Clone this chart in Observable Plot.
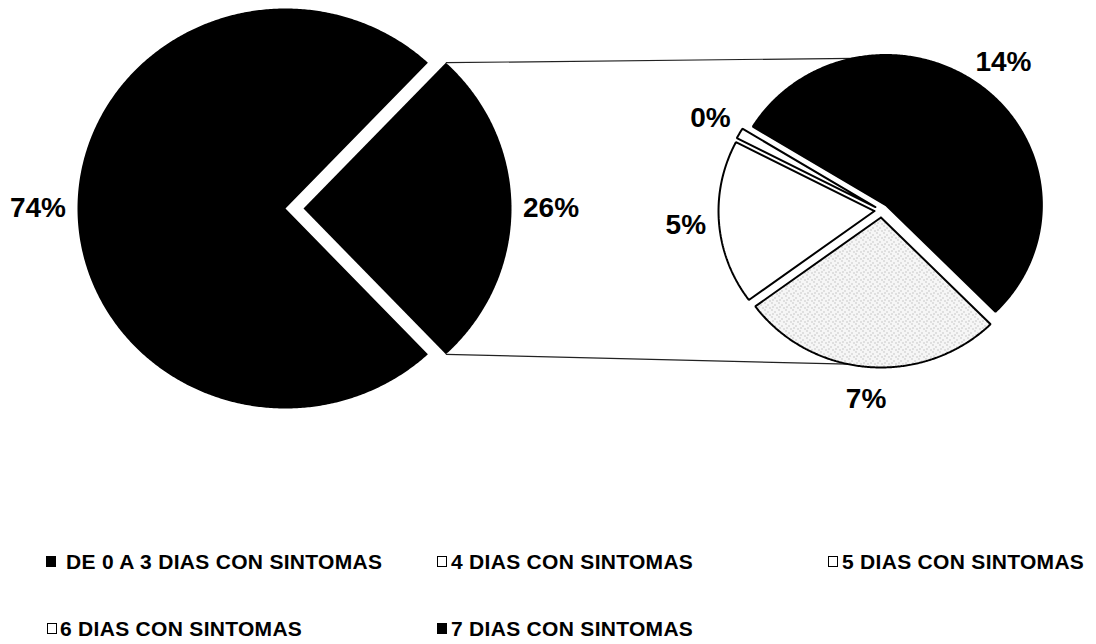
<!DOCTYPE html>
<html>
<head>
<meta charset="utf-8">
<script src="https://cdn.jsdelivr.net/npm/d3@7"></script>
<script src="https://cdn.jsdelivr.net/npm/@observablehq/plot@0.6"></script>
<style>
  body { margin: 0; background: #fff; }
  #chart { width: 1096px; height: 470px; }
  #legend { position: relative; width: 1096px; height: 174px;
    font-family: "Liberation Sans", Arial, sans-serif; font-weight: bold;
    font-size: 21px; letter-spacing: 0.3px; line-height: 21px; color: #000; }
  .sw { position: absolute; width: 10px; height: 11px; box-sizing: border-box; border: 1.6px solid #000; }
  .lt { position: absolute; white-space: nowrap; }
</style>
</head>
<body>
<div id="chart"></div>
<div id="legend"></div>
<script>
// ---------- data ----------
const mainCategories = ["OTROS", "DE 0 A 3 DIAS CON SINTOMAS"];
const mainValues = [26, 74];
const subCategories = ["7 DIAS CON SINTOMAS", "6 DIAS CON SINTOMAS", "5 DIAS CON SINTOMAS", "4 DIAS CON SINTOMAS"];
const subValues = [14.0, 7.1, 4.6, 0.3];
const legendCategories = ["DE 0 A 3 DIAS CON SINTOMAS", "4 DIAS CON SINTOMAS", "5 DIAS CON SINTOMAS", "6 DIAS CON SINTOMAS", "7 DIAS CON SINTOMAS"];

// ---------- styles / layout ----------
const W = 1096, H = 470;
const deg = Math.PI / 180;
const aspect = 1.04;
const mainFills = {"OTROS": "#000", "DE 0 A 3 DIAS CON SINTOMAS": "#000"};
const subFills = {"7 DIAS CON SINTOMAS": "#000", "6 DIAS CON SINTOMAS": "url(#stipple)", "5 DIAS CON SINTOMAS": "#fff", "4 DIAS CON SINTOMAS": "#fff"};
const legendFills = {"DE 0 A 3 DIAS CON SINTOMAS": "#000", "4 DIAS CON SINTOMAS": "#fff", "5 DIAS CON SINTOMAS": "#fff", "6 DIAS CON SINTOMAS": "#fff", "7 DIAS CON SINTOMAS": "#000"};
const mainPie = {cx: 285, cy: 208, r: 200, explode: {"OTROS": 18, "DE 0 A 3 DIAS CON SINTOMAS": 0}, labelGap: 38};
const subPie = {cx: 881, cy: 210, r: 150, explode: 7, labelGap: 32, start: -58.5 * deg};
const fmt = d3.format(".0%");

function polar(cx, cy, r, a) { return [cx + r * aspect * Math.sin(a), cy - r * Math.cos(a)]; }
function slicePts(cx, cy, r, a0, a1) {
  const pts = [[cx, cy]];
  const n = Math.max(2, Math.ceil((a1 - a0) / (0.5 * deg)));
  for (let i = 0; i <= n; i++) pts.push(polar(cx, cy, r, a0 + (a1 - a0) * i / n));
  pts.push([cx, cy]);
  return pts;
}

// main pie: composite slice centred on the right
const mainData = mainCategories.map((c, i) => ({c, v: mainValues[i]}));
const otherShare = mainValues[0] / d3.sum(mainValues);
const mainStart = 90 * deg - otherShare * Math.PI;
const mainArcs = d3.pie().sort(null).value(d => d.v).startAngle(mainStart).endAngle(mainStart + 2 * Math.PI)(mainData);
const mainSlices = mainArcs.map(a => {
  const mid = (a.startAngle + a.endAngle) / 2;
  const e = mainPie.explode[a.data.c];
  const cx = mainPie.cx + e * Math.sin(mid), cy = mainPie.cy - e * Math.cos(mid);
  return {c: a.data.c, v: a.data.v, a0: a.startAngle, a1: a.endAngle, mid, cx, cy,
    pts: slicePts(cx, cy, mainPie.r, a.startAngle, a.endAngle)};
});

// secondary pie
const subData = subCategories.map((c, i) => ({c, v: subValues[i]}));
const subArcs = d3.pie().sort(null).value(d => d.v).startAngle(subPie.start).endAngle(subPie.start + 2 * Math.PI)(subData);
const subSlices = subArcs.map(a => {
  const mid = (a.startAngle + a.endAngle) / 2;
  const cx = subPie.cx + subPie.explode * Math.sin(mid), cy = subPie.cy - subPie.explode * Math.cos(mid);
  return {c: a.data.c, v: a.data.v, a0: a.startAngle, a1: a.endAngle, mid, cx, cy,
    pts: slicePts(cx, cy, subPie.r, a.startAngle, a.endAngle)};
});

// labels
const labels = [
  ...mainSlices.map(s => { const p = polar(s.cx, s.cy, mainPie.r + mainPie.labelGap, s.mid); return {x: p[0], y: p[1], t: fmt(s.v / 100)}; }),
  ...subSlices.map(s => { const p = polar(s.cx, s.cy, subPie.r + subPie.labelGap, s.mid); return {x: p[0], y: p[1], t: fmt(s.v / 100)}; })
];

// connector lines: from composite slice edges to the secondary pie
const other = mainSlices[0];
function onSub(a) {
  const norm = x => ((x - subPie.start) % (2 * Math.PI) + 2 * Math.PI) % (2 * Math.PI) + subPie.start;
  const an = norm(a);
  const s = subSlices.find(s => an >= s.a0 && an <= s.a1) || subSlices[0];
  return polar(s.cx, s.cy, subPie.r, a);
}
const pTopL = polar(other.cx, other.cy, mainPie.r, other.a0);
const pBotL = polar(other.cx, other.cy, mainPie.r, other.a1);
const pTopR = onSub(-12 * deg);
const pBotR = onSub(192 * deg);
const links = [
  {x1: pTopL[0], y1: pTopL[1], x2: pTopR[0], y2: pTopR[1]},
  {x1: pBotL[0], y1: pBotL[1], x2: pBotR[0], y2: pBotR[1]}
];

const sliceMarks = [
  ...mainSlices.map(s => Plot.line(s.pts, {x: d => d[0], y: d => d[1], fill: mainFills[s.c], stroke: "none"})),
  ...subSlices.map(s => Plot.line(s.pts, {x: d => d[0], y: d => d[1], fill: subFills[s.c], stroke: "#000", strokeWidth: 2, strokeLinejoin: "miter"}))
];

const svg = Plot.plot({
  width: W, height: H, margin: 0,
  x: {domain: [0, W], range: [0, W], axis: null},
  y: {domain: [0, H], range: [0, H], axis: null},
  style: {background: "#fff", overflow: "visible"},
  marks: [
    Plot.link(links, {x1: "x1", y1: "y1", x2: "x2", y2: "y2", stroke: "#222", strokeWidth: 1.2}),
    ...sliceMarks,
    Plot.text(labels, {x: "x", y: "y", text: "t", fontSize: 28, fontWeight: "bold",
      fontFamily: "Liberation Sans, Arial, sans-serif", fill: "#000", textAnchor: "middle", lineAnchor: "middle"})
  ]
});

// stipple pattern for the "6 DIAS" slice
const ns = "http://www.w3.org/2000/svg";
const defs = document.createElementNS(ns, "defs");
const pat = document.createElementNS(ns, "pattern");
pat.setAttribute("id", "stipple"); pat.setAttribute("width", 7); pat.setAttribute("height", 7);
pat.setAttribute("patternUnits", "userSpaceOnUse");
const bg = document.createElementNS(ns, "rect");
bg.setAttribute("width", 7); bg.setAttribute("height", 7); bg.setAttribute("fill", "#f6f6f6");
pat.appendChild(bg);
[[1, 1], [4, 3], [2, 5], [6, 6]].forEach(([x, y]) => {
  const r = document.createElementNS(ns, "rect");
  r.setAttribute("x", x); r.setAttribute("y", y); r.setAttribute("width", 1); r.setAttribute("height", 1);
  r.setAttribute("fill", "#9a9a9a");
  pat.appendChild(r);
});
defs.appendChild(pat);
svg.insertBefore(defs, svg.firstChild);
document.getElementById("chart").appendChild(svg);

// legend
const legendLayout = {markerX: [46, 437, 828, 47, 437], textX: [66, 451, 842, 60, 451], rowY: [91, 158], row: [0, 0, 0, 1, 1]};
const leg = document.getElementById("legend");
legendCategories.forEach((c, i) => {
  const cy = legendLayout.rowY[legendLayout.row[i]];
  const sw = document.createElement("div");
  sw.className = "sw";
  sw.style.left = legendLayout.markerX[i] + "px";
  sw.style.top = (cy - 5.5) + "px";
  sw.style.background = legendFills[c];
  leg.appendChild(sw);
  const t = document.createElement("div");
  t.className = "lt";
  t.style.left = legendLayout.textX[i] + "px";
  t.style.top = (cy - 10.3) + "px";
  t.textContent = c;
  leg.appendChild(t);
});
</script>
</body>
</html>
